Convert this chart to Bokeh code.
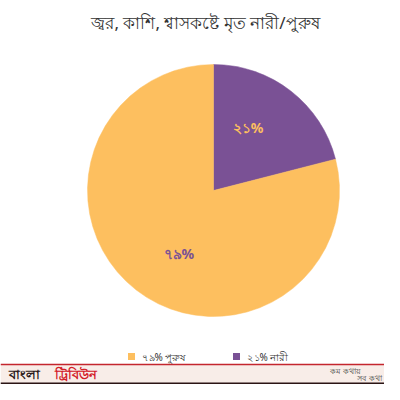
from bokeh.plotting import figure
from bokeh.embed import file_html
from bokeh.resources import INLINE
from bokeh.core.properties import value
from bokeh.models import ColumnDataSource
import math

# ---- data ----
title_text = "জ্বর, কাশি, শ্বাসকষ্টে মৃত নারী/পুরুষ"
categories = ["নারী", "পুরুষ"]
shares = [21, 79]
share_labels = ["২১%", "৭৯%"]
legend_order = [1, 0]  # legend shows পুরুষ first
colors = ["#7a5195", "#fdbf5f"]
label_colors = ["#fdbf5f", "#7a5195"]

W, H = 384, 384

def Y(ref_y):
    return H - ref_y

def X(ref_x):
    return ref_x

p = figure(width=W, height=H, x_range=(0, W), y_range=(0, H),
           output_backend="svg", toolbar_location=None, min_border=0)
p.axis.visible = False
p.grid.visible = False
p.outline_line_color = None
p.background_fill_color = "white"
p.border_fill_color = "white"

FONT = "Noto Sans"

# title
p.text(x=[X(205)], y=[Y(22)], text=[title_text], text_align="center",
       text_baseline="middle", text_font_size="17px", text_color="#333333",
       text_font=value(FONT))

# pie
cx, cy, R = X(213), Y(190), 126
total = sum(shares)
starts, ends, lx, ly = [], [], [], []
a = 90.0
for s in shares:
    sweep = s / total * 360.0
    starts.append(math.radians(a))
    ends.append(math.radians(a - sweep))
    mid = a - sweep / 2 + 9
    lx.append(cx + 0.57 * R * math.cos(math.radians(mid)))
    ly.append(cy + 0.57 * R * math.sin(math.radians(mid)))
    a -= sweep

src = ColumnDataSource(dict(start=starts, end=ends, color=colors,
                            lx=lx, ly=ly, lab=share_labels, lc=label_colors))
p.wedge(x=cx, y=cy, radius=R, start_angle="start", end_angle="end",
        direction="clock", fill_color="color", line_color="color",
        line_width=0.5, source=src)
p.text(x="lx", y="ly", text="lab", text_color="lc", source=src,
       text_align="center", text_baseline="middle", text_font_size="14px",
       text_font_style="bold", text_font=value(FONT))

# legend (manual)
leg_x0, leg_gap, leg_y = X(131), 105, Y(356)
for k, i in enumerate(legend_order):
    x0 = leg_x0 + k * leg_gap
    p.scatter(x=[x0], y=[leg_y], marker="square", size=7,
              fill_color=colors[i], line_color=None)
    p.text(x=[x0 + 10], y=[leg_y], text=[share_labels[i] + " " + categories[i]],
           text_baseline="middle", text_font_size="10px", text_color="#333333",
           text_font=value(FONT))

# footer banner (compressed to fit the 384px frame)
band_top = Y(364)
p.quad(left=0, right=W, bottom=0, top=band_top, fill_color="#f8ede8", line_color=None)
p.quad(left=0, right=W, bottom=0, top=2, fill_color="#2a1414", line_color=None)
p.segment(x0=0, y0=band_top, x1=W, y1=band_top, line_color="#c4262e", line_width=1.5)
p.text(x=[X(8)], y=[Y(373)], text=["বাংলা"], text_baseline="middle",
       text_font_size="13px", text_font_style="bold", text_color="#2b1a1a",
       text_font=value(FONT))
p.text(x=[X(54)], y=[Y(373)], text=["ট্রিবিউন"], text_baseline="middle",
       text_font_size="13px", text_font_style="bold", text_color="#d3202a",
       text_font=value(FONT))
p.text(x=[X(360)], y=[Y(369.5)], text=["কম কথায়"], text_align="right",
       text_baseline="middle", text_font_size="8px", text_color="#444444",
       text_font=value(FONT))
p.text(x=[X(381)], y=[Y(377)], text=["সব কথা"], text_align="right",
       text_baseline="middle", text_font_size="8px", text_color="#444444",
       text_font=value(FONT))

open("out.html", "w").write(file_html(p, INLINE))
